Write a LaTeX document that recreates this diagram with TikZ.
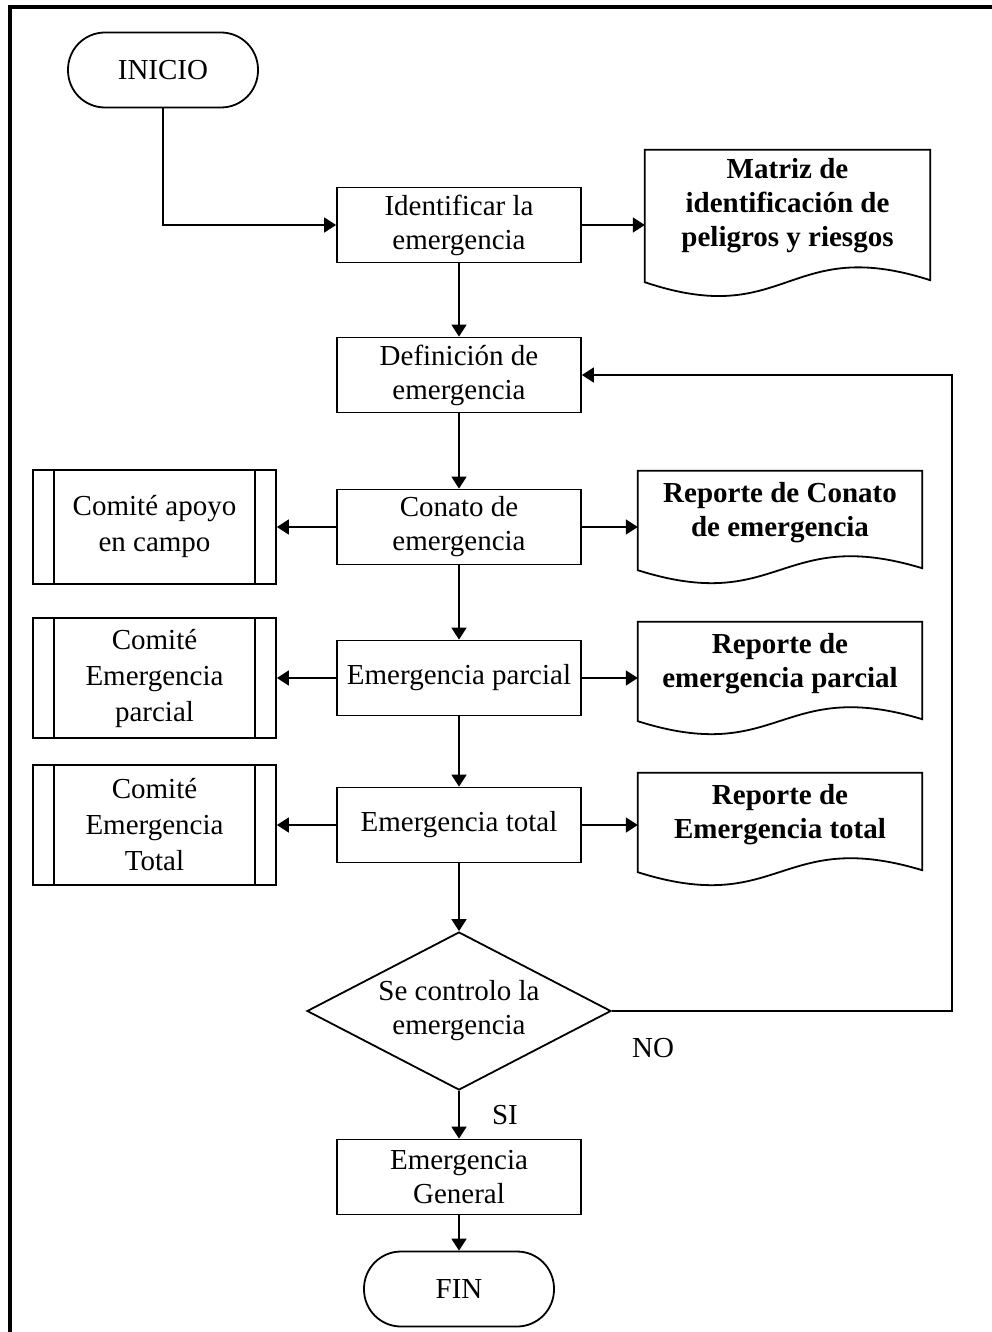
\documentclass[tikz,border=0pt]{standalone}
\usepackage{fontspec}
\setmainfont{Liberation Serif}
\usetikzlibrary{arrows.meta,shapes.geometric,calc}
\begin{document}
\begin{tikzpicture}[x=1pt,y=-1pt,
  every node/.style={font=\fontsize{29}{34}\selectfont, align=center, inner sep=0pt},
  line/.style={line width=1.8pt},
  arr/.style={line width=1.8pt, -{Triangle[length=12pt,width=15pt]}},
  term/.style={draw, line width=1.8pt, rounded corners=37pt, minimum width=190pt, minimum height=75pt},
  proc/.style={draw, line width=1.8pt, minimum width=244pt, minimum height=75pt},
  pred/.style={draw, line width=1.8pt, minimum width=243pt, font=\fontsize{29}{36}\selectfont},
  docn/.style={minimum width=284pt, minimum height=84pt, font=\bfseries\fontsize{29}{34}\selectfont},
  dec/.style={draw, diamond, line width=1.8pt, aspect=1.92, minimum width=304pt, minimum height=158pt}
]
\useasboundingbox (0,0) rectangle (992,1332);
\draw[line width=3.2pt] (10,1332) -- (10,7) -- (992,7);

% nodes
\node[term] (ini) at (163,70) {INICIO};
\node[proc] (idn) at (459,225) {Identificar la\\emergencia};
\node[docn, minimum width=285pt, minimum height=112pt] (mat) at (787.5,206) {Matriz de\\identificación de\\peligros y riesgos};
\node[proc] (def) at (459,375) {Definición de\\emergencia};
\node[proc] (con) at (459,527) {Conato de\\emergencia};
\node[pred, minimum height=114pt] (c1) at (154.5,527) {Comité apoyo\\en campo};
\node[docn] (d1) at (780,513) {Reporte de Conato\\de emergencia};
\node[proc] (par) at (459,678) {Emergencia parcial};
\node[pred, minimum height=120pt] (c2) at (154.5,678) {Comité\\Emergencia\\parcial};
\node[docn] (d2) at (780,664) {Reporte de\\emergencia parcial};
\node[proc] (tot) at (459,825) {Emergencia total};
\node[pred, minimum height=120pt] (c3) at (154.5,825) {Comité\\Emergencia\\Total};
\node[docn] (d3) at (780,815) {Reporte de\\Emergencia total};
\node[dec] (dec) at (459,1011) {Se controlo la\\emergencia};
\node[proc] (gen) at (459,1177) {Emergencia\\General};
\node[term] (fin) at (459,1289) {FIN};
\node (no) at (653,1048) {NO};
\node (si) at (505,1115) {SI};

% predefined-process inner lines
\foreach \c in {c1,c2,c3}{
  \draw[line] ([xshift=22pt]\c.north west) -- ([xshift=22pt]\c.south west);
  \draw[line] ([xshift=-22pt]\c.north east) -- ([xshift=-22pt]\c.south east);
}

% document shapes
\draw[line] (mat.north west) -- ($(mat.south west)+(0,20)$)
  .. controls ($(mat.south)+(0,68)$) and ($(mat.south)+(0,-28)$) .. ($(mat.south east)+(0,18)$) -- (mat.north east) -- cycle;
\foreach \d in {d1,d2,d3}{
  \draw[line] (\d.north west) -- ($(\d.south west)+(0,15)$)
    .. controls ($(\d.south)+(0,60)$) and ($(\d.south)+(0,-30)$) .. ($(\d.south east)+(0,13)$) -- (\d.north east) -- cycle;
}

% connectors
\draw[arr] (ini.south) |- (idn.west);
\draw[arr] (idn.east) -- (idn.east -| mat.west);
\draw[arr] (idn.south) -- (def.north);
\draw[arr] (def.south) -- (con.north);
\draw[arr] (con.west) -- (c1.east);
\draw[arr] (con.east) -- (con.east -| d1.west);
\draw[arr] (con.south) -- (par.north);
\draw[arr] (par.west) -- (c2.east);
\draw[arr] (par.east) -- (par.east -| d2.west);
\draw[arr] (par.south) -- (tot.north);
\draw[arr] (tot.west) -- (c3.east);
\draw[arr] (tot.east) -- (tot.east -| d3.west);
\draw[arr] (tot.south) -- (dec.north);
\coordinate (fb) at (952,1011);
\draw[arr] (dec.east) -- (fb) |- (def.east);
\draw[arr] (dec.south) -- (gen.north);
\draw[arr] (gen.south) -- (fin.north);
\end{tikzpicture}
\end{document}
